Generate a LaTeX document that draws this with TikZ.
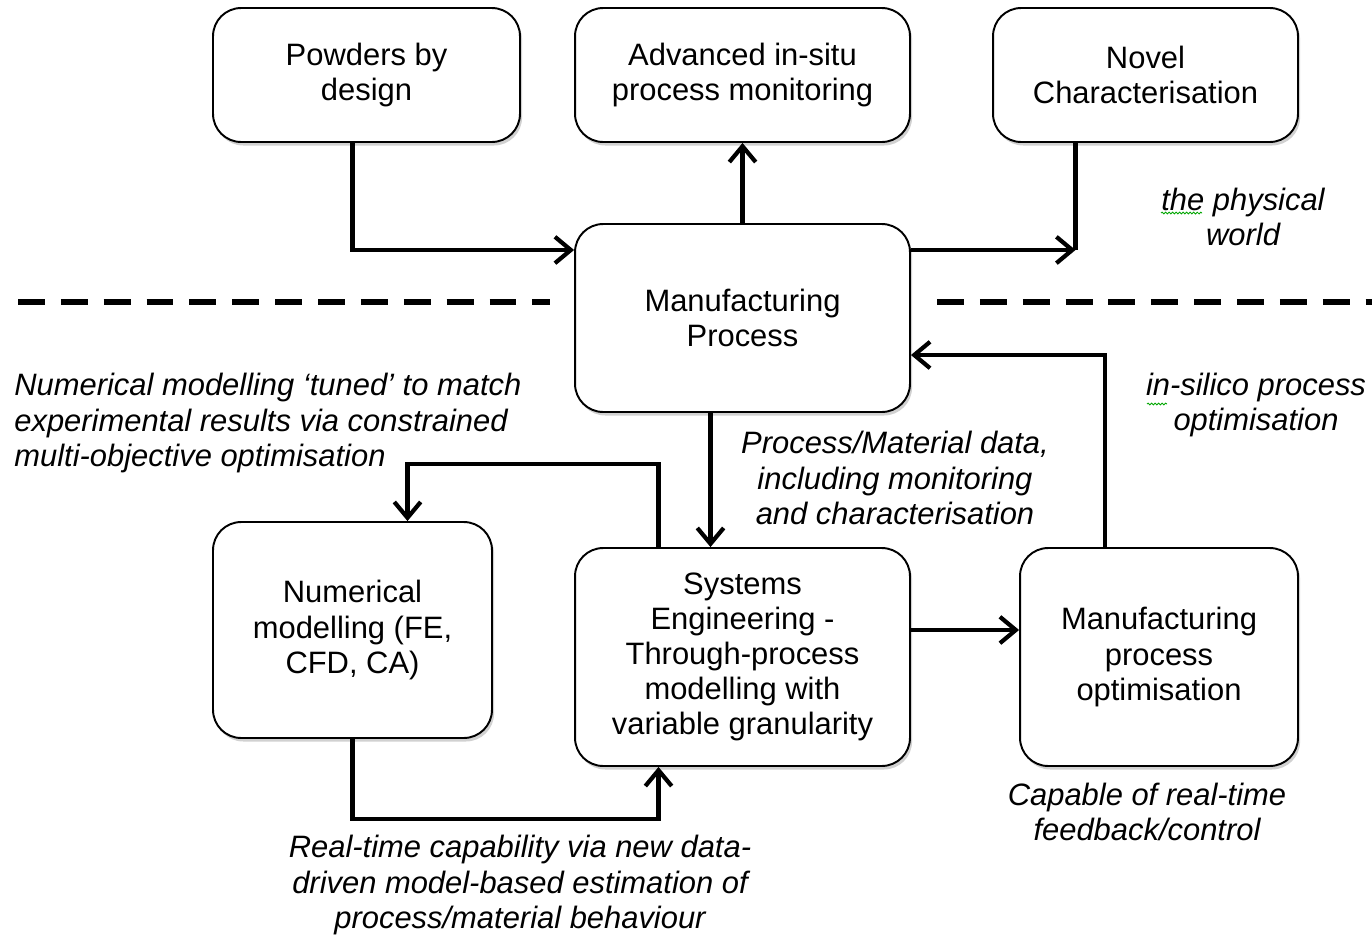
\documentclass[tikz,border=0pt]{standalone}
\usepackage{fontspec}
\setmainfont{Liberation Sans}
\usetikzlibrary{arrows.meta,calc,shadows,decorations.pathmorphing}
\begin{document}
\begin{tikzpicture}[x=0.02cm,y=-0.02cm,
  box/.style={draw, line width=1.1pt, rounded corners=16pt, fill=white,
    align=center, font=\fontsize{17.6}{20}\selectfont, inner sep=0pt,
    drop shadow={shadow xshift=1.2pt, shadow yshift=-2pt, opacity=0.18, fill=black}},
  conn/.style={line width=2.4pt, -{Straight Barb[length=9pt,width=15pt,line width=2.4pt]}},
  wire/.style={line width=2.4pt},
  note/.style={font=\fontsize{17.6}{20}\selectfont\itshape, align=center, inner sep=0pt},
  sep/.style={line width=3.4pt, dash pattern=on 15.3pt off 9.1pt},
  spell/.style={draw=green!65!black, line width=0.5pt, decorate,
    decoration={snake, amplitude=0.5pt, segment length=2pt}}
]
\useasboundingbox (0,0) rectangle (1372,937);

% dashed boundary between physical and virtual worlds
\draw[sep] (18,302) -- (550,302);
\draw[sep] (937,302) -- (1380,302);

% blocks
\node[box, minimum width=6.14cm, minimum height=2.68cm] (powders) at (366.5,75) {Powders by\\design};
\node[box, minimum width=6.7cm, minimum height=2.68cm] (adv) at (742.5,75) {Advanced in-situ\\process monitoring};
\node[box, minimum width=6.1cm, minimum height=2.68cm] (novel) at (1145.5,75) {Novel\\Characterisation};
\node[box, minimum width=6.7cm, minimum height=3.76cm] (mp) at (742.5,318) {Manufacturing\\Process};
\node[box, minimum width=5.58cm, minimum height=4.32cm] (num) at (352.5,630) {Numerical\\modelling (FE,\\CFD, CA)};
\node[box, minimum width=6.7cm, minimum height=4.36cm] (se) at (742.5,657) {Systems\\Engineering -\\Through-process\\modelling with\\variable granularity};
\node[box, minimum width=5.56cm, minimum height=4.36cm] (mpo) at (1159,657) {Manufacturing\\process\\optimisation};

% annotations
\node[note] (phys) at (1243,217) {the physical\\world};
\node[note, anchor=west, align=left] (tuned) at (14,423) {Numerical modelling ‘tuned’ to match\\experimental results via constrained\\multi-objective optimisation};
\node[note] (data) at (895,478) {Process/Material data,\\including monitoring\\and characterisation};
\node[note] (silico) at (1256,405) {in-silico process\\optimisation};
\node[note] (rt) at (520,885) {Real-time capability via new data-\\driven model-based estimation of\\process/material behaviour};
\node[note] (cap) at (1147,812) {Capable of real-time\\feedback/control};

% spell-check squiggles
\draw[spell] (1161,213) -- (1202,213);
\draw[spell] (1147,404) -- (1167,404);

% connectors
\draw[conn] ($(powders.south)+(-14,0)$) |- ($(mp.west)+(0,-68)$);
\draw[conn] (mp.north) -- (adv.south);
\coordinate (ncfoot) at ($(novel.south)+(-70,0)$);
\coordinate (mpout) at ($(mp.east)+(0,-68)$);
\draw[wire] (ncfoot) -- (mpout -| ncfoot);
\draw[conn] (mpout) -- (mpout -| ncfoot);
\draw[conn] ($(mp.south)+(-32,0)$) -- ($(se.north)+(-32,0)$);
\draw[conn] ($(se.north)+(-84,0)$) -- ++(0,-83) -| ($(num.north)+(55,0)$);
\draw[conn] (num.south) -- ++(0,80) -| ($(se.south)+(-84,0)$);
\draw[conn] ($(se.east)+(0,-27)$) -- ($(mpo.west)+(0,-27)$);
\draw[conn] ($(mpo.north)+(-54,0)$) |- ($(mp.east)+(0,37)$);
\end{tikzpicture}
\end{document}
